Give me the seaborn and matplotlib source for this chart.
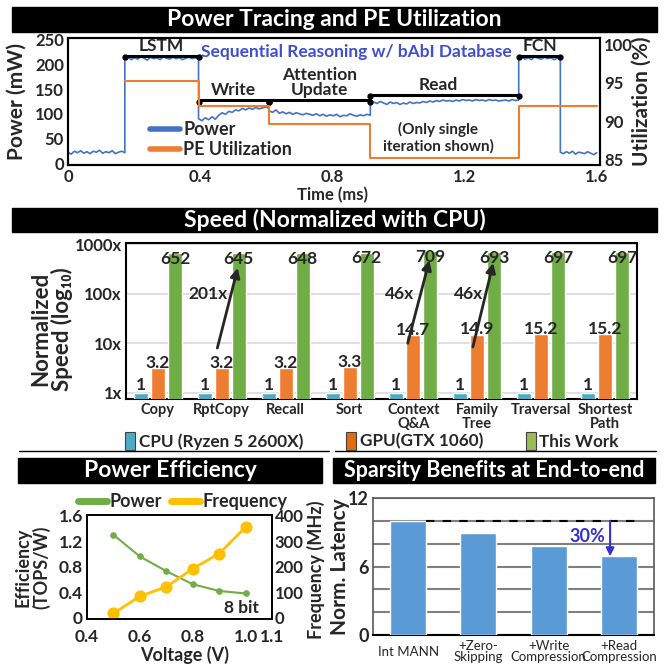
import matplotlib
matplotlib.use("Agg")
import matplotlib.pyplot as plt
import seaborn as sns
import numpy as np
import pandas as pd
from matplotlib.patches import Rectangle, Patch
from matplotlib.lines import Line2D
from matplotlib.ticker import NullLocator

#Data: power trace (mW), one list per phase
phase_bounds = [0, 0.172, 0.395, 0.609, 0.915, 1.364, 1.490, 1.6]
power_idle_a = [22, 18, 24, 21, 25, 20, 23, 19, 24, 22, 26, 20, 23, 21, 25, 19, 22, 24, 21]
power_lstm = [212, 215, 210, 214, 211, 216, 213, 209, 215, 212, 214, 210, 216, 213,
              211, 215, 212, 214, 210, 213, 215, 212, 214, 211]
power_write = [90, 86, 92, 88, 94, 89, 97, 102, 99, 105, 103, 108, 106, 111, 108,
               112, 109, 113, 110, 112, 114, 111]
power_attn = [106, 103, 108, 101, 104, 100, 103, 99, 102, 100, 98, 101, 99, 97, 100,
              96, 99, 95, 98, 96, 99, 94, 97, 96, 100, 97, 95, 98, 96, 99, 97]
power_read = [120, 124, 121, 125, 122, 119, 124, 121, 123, 119, 122, 120, 124, 121,
              123, 122, 125, 123, 126, 124, 127, 125, 128, 126, 127, 125, 128, 126,
              129, 127, 128, 126, 129, 127, 128, 126, 129, 127, 128, 126, 127, 128,
              126, 129, 127, 128]
power_fcn = [212, 215, 211, 214, 210, 216, 213, 211, 215, 212, 214, 210, 213, 215]
power_idle_b = [22, 19, 23, 20, 24, 18, 22, 21, 19, 23, 20, 17, 21]
power_phases = [power_idle_a, power_lstm, power_write, power_attn, power_read, power_fcn, power_idle_b]

#PE utilization (%) steps
util_time = [0.172, 0.395, 0.609, 0.915, 1.364, 1.6]
util_pct = [95.2, 92.0, 89.6, 85.3, 92.0, 92.0]

phase_names = ["LSTM", "Write", "Attention\nUpdate", "Read", "FCN"]
phase_start = [0.172, 0.395, 0.609, 0.915, 1.364]
phase_end = [0.395, 0.609, 0.915, 1.364, 1.490]
bracket_mw = [218, 128, 128, 139, 218]

#Speed normalized with CPU
tasks = ["Copy", "RptCopy", "Recall", "Sort", "Context\nQ&A", "Family\nTree", "Traversal", "Shortest\nPath"]
cpu_speed = [1, 1, 1, 1, 1, 1, 1, 1]
gpu_speed = [3.2, 3.2, 3.2, 3.3, 14.7, 14.9, 15.2, 15.2]
ours_speed = [652, 645, 648, 672, 709, 693, 697, 697]
devices = ["CPU (Ryzen 5 2600X)", "GPU(GTX 1060)", "This Work"]
gain_task = [1, 4, 5]
gain_from = [8.0, 10.0, 8.4]
gain_to = [330, 470, 415]
gain_text = ["201x", "46x", "46x"]

#Power efficiency vs voltage
voltage = [0.5, 0.6, 0.7, 0.8, 0.9, 1.0]
efficiency = [1.30, 0.96, 0.73, 0.525, 0.42, 0.38]
frequency = [17, 84, 121, 192, 251, 355]

#Sparsity benefits
configs = ["Int MANN", "+Zero-\nSkipping", "+Write\nCompression", "+Read\nCompression"]
latency = [10.0, 8.9, 7.8, 6.9]

sns.set_style("white")
plt.rcParams["font.family"] = ["Lato", "DejaVu Sans"]
plt.rcParams["font.weight"] = "bold"
plt.rcParams["axes.labelweight"] = "bold"

W, H = 668, 666
fig = plt.figure(figsize=(W / 100, H / 100), dpi=100)


#convert pixel box (left, top, right, bottom) to figure fraction
def px_rect(l, t, r, b):
    return [l / W, 1 - b / H, (r - l) / W, (b - t) / H]


#black header with white title
def title_bar(l, t, r, b, text, size):
    fig.add_artist(Rectangle((l / W, 1 - b / H), (r - l) / W, (b - t) / H,
                             transform=fig.transFigure, color="black", zorder=0))
    fig.text((l + r) / 2 / W, 1 - (t + b) / 2 / H, text, color="white",
             fontsize=size, fontweight="bold", ha="center", va="center")


def style_spines(ax, lw=1.5, color="black"):
    for s in ax.spines.values():
        s.set_visible(True)
        s.set_color(color)
        s.set_linewidth(lw)


#---------------- Panel 1: power tracing ----------------
title_bar(12, 7, 657, 32, "Power Tracing and PE Utilization", 16.5)

times, powers = [], []
for i, vals in enumerate(power_phases):
    times.extend(np.linspace(phase_bounds[i], phase_bounds[i + 1], len(vals)))
    powers.extend(vals)
df_power = pd.DataFrame({"time": times, "power": powers})

ax1 = fig.add_axes(px_rect(68, 38, 600, 165))
sns.lineplot(data=df_power, x="time", y="power", ax=ax1, color="#4472C4", lw=1.2,
             estimator=None, sort=False)
ax1.set_xlim(0, 1.61)
ax1.set_ylim(-4, 254)
ax1.set_xticks([0, 0.4, 0.8, 1.2, 1.6], ["0", "0.4", "0.8", "1.2", "1.6"])
ax1.set_yticks([0, 50, 100, 150, 200, 250])
ax1.tick_params(length=0, labelsize=12, pad=3)
ax1.set_xlabel("Time (ms)", fontsize=12)
ax1.xaxis.set_label_coords(0.498, -0.17)
ax1.set_ylabel("Power (mW)", fontsize=15)
ax1.yaxis.set_label_coords(-0.077, 0.5)
style_spines(ax1)

ax1b = ax1.twinx()
sns.lineplot(x=util_time, y=util_pct, ax=ax1b, color="#ED7D31", lw=1.5,
             drawstyle="steps-post", estimator=None)
ax1b.set_ylim(84.35, 100.8)
ax1b.set_yticks([85, 90, 95, 100])
ax1b.tick_params(length=0, labelsize=12, pad=3)
ax1b.set_ylabel("Utilization (%)", fontsize=15)
ax1b.yaxis.set_label_coords(1.06, 0.5)
style_spines(ax1b)

for name, t0, t1, lvl in zip(phase_names, phase_start, phase_end, bracket_mw):
    ax1.plot([t0, t1], [lvl, lvl], color="black", lw=2.2, solid_capstyle="round")
    ax1.plot([t0, t1], [lvl - 3, lvl - 3], ls="none", marker="o", ms=3.5, color="black")
    xc = (t0 + t1) / 2 if name != "Read" else 1.12
    ax1.text(xc, lvl + 4, name, ha="center", va="bottom", fontsize=12.5,
             linespacing=0.95)

ax1.text(0.874, 226, "Sequential Reasoning w/ bAbI Database", color="#3F4FCF",
         fontsize=12.5, ha="center", va="center")
ax1.text(1.12, 51, "(Only single\niteration shown)", fontsize=11, ha="center",
         va="center", linespacing=1.15)

leg_handles = [Line2D([], [], color="#4472C4", lw=4, solid_capstyle="round"),
               Line2D([], [], color="#ED7D31", lw=4, solid_capstyle="round")]
ax1b.legend(leg_handles, ["Power", "PE Utilization"], loc="upper left",
            bbox_to_anchor=(0.14, 0.40), frameon=False, fontsize=13,
            handlelength=1.7, handletextpad=0.15, labelspacing=0.15,
            borderaxespad=0)

#---------------- Panel 2: speed ----------------
title_bar(12, 208, 657, 232, "Speed (Normalized with CPU)", 16.5)

df_speed = pd.DataFrame({
    "task": tasks * 3,
    "device": [devices[0]] * 8 + [devices[1]] * 8 + [devices[2]] * 8,
    "speed": cpu_speed + gpu_speed + ours_speed,
})

ax2 = fig.add_axes(px_rect(126, 243, 637, 399))
ax2.set_yscale("log")
sns.barplot(data=df_speed, x="task", y="speed", hue="device", ax=ax2,
            palette=["#4BACC6", "#ED7D31", "#70AD47"], saturation=1,
            width=0.8, gap=0.18, errorbar=None, legend=False, zorder=3)
ax2.set_ylim(0.75, 1050)
ax2.set_xlim(-0.5, 7.5)
ax2.yaxis.set_minor_locator(NullLocator())
ax2.set_yticks([1, 10, 100, 1000], ["1x", "10x", "100x", "1000x"])
ax2.grid(axis="y", color="#D9D9D9", lw=1.2, zorder=0)
ax2.set_axisbelow(True)
ax2.tick_params(axis="y", length=0, labelsize=12, pad=3)
ax2.tick_params(axis="x", length=0, labelsize=10.5, pad=3)
for lab in ax2.get_xticklabels():
    lab.set_linespacing(0.95)
ax2.set_xlabel("")
ax2.set_ylabel("Normalized\nSpeed (log₁₀)", fontsize=16, linespacing=1.0)
ax2.yaxis.set_label_coords(-0.104, 0.45)
style_spines(ax2)

for cont, vals, pad in zip(ax2.containers, [cpu_speed, gpu_speed, ours_speed], [0, -2, -10]):
    ax2.bar_label(cont, labels=[f"{v:g}" for v in vals], padding=pad,
                  fontsize=12.5, fontweight="bold", zorder=5)

for k, v0, v1, txt in zip(gain_task, gain_from, gain_to, gain_text):
    x0 = k - 0.07 if k != 4 else k - 0.09
    ax2.annotate("", xy=(k + 0.25, v1), xytext=(x0, v0),
                 arrowprops=dict(arrowstyle="-|>", color="#262626", lw=2,
                                 mutation_scale=14, shrinkA=0, shrinkB=0), zorder=6)
    ax2.text(k - 0.22 if k != 5 else k - 0.14, 100, txt, fontsize=12.5,
             ha="center", va="center", zorder=6)

spd_handles = [Patch(facecolor=c, edgecolor="#404040", lw=0.8)
               for c in ["#4BACC6", "#E46C0A", "#9BBB59"]]
fig.legend(spd_handles, devices, loc="center", bbox_to_anchor=(372 / W, 1 - 441 / H),
           ncol=3, frameon=False, fontsize=12.3, handlelength=0.6, handleheight=1.3,
           handletextpad=0.2, columnspacing=2.5)

fig.add_artist(Line2D([19 / W, 329 / W], [1 - 451 / H] * 2, color="black", lw=1,
                      transform=fig.transFigure))
fig.add_artist(Line2D([335 / W, 656 / W], [1 - 451 / H] * 2, color="black", lw=1,
                      transform=fig.transFigure))

#---------------- Panel 3: power efficiency ----------------
title_bar(18, 458, 322, 483, "Power Efficiency", 16.5)

ax3 = fig.add_axes(px_rect(87, 515, 272, 619))
sns.lineplot(x=voltage, y=efficiency, ax=ax3, color="#70AD47", lw=1.5,
             marker="o", ms=4, mec="#70AD47")
ax3.set_xlim(0.4, 1.1)
ax3.set_ylim(-0.02, 1.61)
ax3.set_xticks([0.4, 0.6, 0.8, 1.0, 1.1], ["0.4", "0.6", "0.8", "1.0", "1.1"])
ax3.set_yticks([0, 0.4, 0.8, 1.2, 1.6], ["0", "0.4", "0.8", "1.2", "1.6"])
ax3.tick_params(axis="y", length=0, labelsize=12.5, pad=3)
ax3.tick_params(axis="x", length=0, labelsize=12.5, pad=7)
ax3.get_xticklabels()[-1].set_x(1.112)
ax3.set_xlabel("Voltage (V)", fontsize=13)
ax3.xaxis.set_label_coords(0.53, -0.26)
ax3.set_ylabel("Efficiency\n(TOPS/W)", fontsize=13, linespacing=1.0)
ax3.yaxis.set_label_coords(-0.2, 0.5)
style_spines(ax3, lw=1.2)
ax3.text(0.983, 0.15, "8 bit", fontsize=12.5, ha="center", va="center")

ax3b = ax3.twinx()
sns.lineplot(x=voltage, y=frequency, ax=ax3b, color="#FFC000", lw=2,
             marker="o", ms=8, mec="#FFC000")
ax3b.set_ylim(-5, 402.5)
ax3b.set_yticks([0, 100, 200, 300, 400])
ax3b.tick_params(length=0, labelsize=12, pad=2)
ax3b.set_ylabel("Frequency (MHz)", fontsize=13)
ax3b.yaxis.set_label_coords(1.19, 0.47)
style_spines(ax3b, lw=1.2)

eff_handles = [Line2D([], [], color="#70AD47", lw=5, solid_capstyle="round"),
               Line2D([], [], color="#FFC000", lw=5, solid_capstyle="round")]
ax3b.legend(eff_handles, ["Power", "Frequency"], loc="center",
            bbox_to_anchor=(0.52, 1.13), ncol=2, frameon=False, fontsize=13,
            handlelength=1.6, handletextpad=0.15, columnspacing=0.5, borderaxespad=0)

#---------------- Panel 4: sparsity ----------------
title_bar(333, 458, 655, 483, "Sparsity Benefits at End-to-end", 15.5)

ax4 = fig.add_axes(px_rect(373, 498, 654, 635))
sns.barplot(x=configs, y=latency, ax=ax4, color="#5B9BD5", saturation=1,
            width=0.51, errorbar=None, zorder=3)
ax4.set_ylim(0, 12)
ax4.set_xlim(-0.5, 3.5)
ax4.set_yticks([0, 2, 4, 6, 8, 10, 12], ["0", "", "", "6", "", "", "12"])
ax4.grid(axis="y", color="#7F7F7F", lw=1.5, zorder=0)
ax4.set_axisbelow(True)
ax4.tick_params(axis="y", length=0, labelsize=13, pad=3)
ax4.tick_params(axis="x", length=0, labelsize=9.5, pad=12)
for lab in ax4.get_xticklabels():
    lab.set_va("center")
    lab.set_fontweight("normal")
    lab.set_linespacing(0.95)
ax4.set_ylabel("Norm. Latency", fontsize=15)
ax4.yaxis.set_label_coords(-0.082, 0.5)
style_spines(ax4, lw=1.2, color="#595959")
ax4.spines["bottom"].set_color("black")
ax4.spines["bottom"].set_linewidth(1.5)

ax4.hlines(latency[0], 0.255, 3.23, colors="black", linestyles=(0, (4, 4)), lw=1.5, zorder=4)
ax4.annotate("", xy=(2.875, latency[3]), xytext=(2.875, latency[0]),
             arrowprops=dict(arrowstyle="-|>", color="#3333CC", lw=1.5,
                             mutation_scale=12, shrinkA=0, shrinkB=0), zorder=5)
ax4.text(2.55, 8.6, "30%", color="#3333CC", fontsize=13, ha="center", va="center")

plt.savefig("out.png", dpi=100)
